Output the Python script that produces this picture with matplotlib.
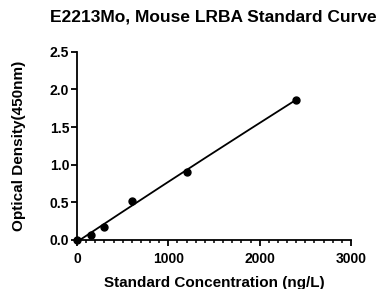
import numpy as np
import matplotlib
matplotlib.use("Agg")
import matplotlib.pyplot as plt
from matplotlib.ticker import MultipleLocator

plt.rcParams['font.family'] = ['Liberation Sans', 'DejaVu Sans']

conc = [0, 150, 300, 600, 1200, 2400]
od = [0.0, 0.066, 0.177, 0.52, 0.905, 1.865]
title = "E2213Mo, Mouse LRBA Standard Curve"
xlabel = "Standard Concentration (ng/L)"
ylabel = "Optical Density(450nm)"

fig = plt.figure(figsize=(3.83, 2.89), dpi=100)
ax = fig.add_axes([0.201, 0.1696, 0.7154, 0.6515])

coef = np.polyfit(conc, od, 2)
xs = np.linspace(min(conc), max(conc), 200)
ax.plot(xs, np.polyval(coef, xs), color='black', lw=1.3, zorder=2)
ax.plot(conc, od, 'o', color='black', ms=5, zorder=3, clip_on=False)

ax.set_xlim(0, 3000)
ax.set_ylim(0, 2.5)
ax.xaxis.set_major_locator(MultipleLocator(1000))
ax.xaxis.set_minor_locator(MultipleLocator(100))
ax.yaxis.set_major_locator(MultipleLocator(0.5))
ax.yaxis.set_major_formatter(matplotlib.ticker.FormatStrFormatter('%.1f'))
for s in ['top', 'right']:
    ax.spines[s].set_visible(False)
for s in ['left', 'bottom']:
    ax.spines[s].set_linewidth(1.3)
ax.tick_params(which='major', length=4, width=1.3, labelsize=10)
ax.tick_params(axis='x', which='major', pad=4.5)
ax.tick_params(axis='y', which='major', pad=1.5)
ax.tick_params(which='minor', length=2.5, width=1.1)
for lab in ax.get_xticklabels() + ax.get_yticklabels():
    lab.set_fontweight('bold')

ax.set_xlabel(xlabel, fontsize=11, fontweight='bold', labelpad=7)
ax.set_ylabel(ylabel, fontsize=11, fontweight='bold', labelpad=17)
fig.text(0.558, 0.94, title, fontsize=12.5, fontweight='bold', ha='center', va='center')

fig.savefig('out.png', dpi=100)
